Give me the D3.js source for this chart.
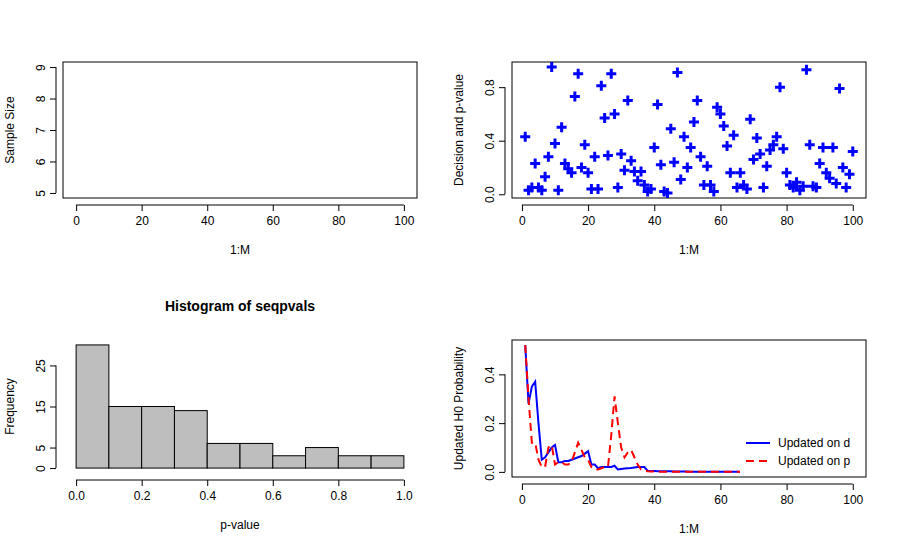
<!DOCTYPE html>
<html><head><meta charset="utf-8">
<script src="https://d3js.org/d3.v7.min.js"></script>
<style>body{margin:0;background:#fff}text{font-family:"Liberation Sans",Arial,sans-serif;font-size:12px}</style>
</head><body><script>
const M = 100;
const pvals = [0.43,0.03,0.05,0.23,0.05,0.03,0.13,0.28,0.95,0.38,0.03,0.5,0.23,0.19,0.16,0.73,0.9,0.2,0.37,0.16,
0.04,0.28,0.04,0.81,0.57,0.29,0.9,0.6,0.05,0.3,0.18,0.7,0.25,0.17,0.1,0.17,0.07,0.02,0.04,0.35,
0.67,0.22,0.02,0.01,0.49,0.24,0.91,0.11,0.43,0.2,0.35,0.54,0.7,0.28,0.07,0.21,0.07,0.02,0.65,0.6,
0.51,0.36,0.16,0.44,0.05,0.16,0.07,0.04,0.56,0.26,0.42,0.3,0.05,0.21,0.33,0.37,0.43,0.8,0.34,0.16,
0.07,0.05,0.09,0.03,0.06,0.93,0.37,0.06,0.05,0.23,0.35,0.16,0.12,0.35,0.08,0.79,0.2,0.05,0.15,0.32];
const histBreaks = [0,0.1,0.2,0.3,0.4,0.5,0.6,0.7,0.8,0.9,1.0];
const histCounts = [30,15,15,14,6,6,3,5,3,3];
const probD = [0.52,0.28,0.35,0.37,0.2,0.05,0.06,0.08,0.1,0.11,0.04,0.04,0.045,0.045,0.05,0.055,0.06,0.065,0.075,0.085,
0.03,0.03,0.015,0.02,0.02,0.02,0.02,0.025,0.01,0.012,0.014,0.015,0.016,0.018,0.02,0.02,0.02,0.005,0.004,0.004,
0.003,0.003,0.003,0.003,0.003,0.002,0.002,0.002,0.002,0.002];
const probP = [0.52,0.3,0.12,0.12,0.05,0.02,0.02,0.1,0.11,0.03,0.04,0.04,0.03,0.03,0.04,0.08,0.12,0.09,0.06,0.05,
0.02,0.01,0.01,0.015,0.02,0.02,0.15,0.31,0.2,0.1,0.06,0.08,0.09,0.06,0.03,0.01,0.005,0.003,0.002,0.002];
while (probD.length < M) probD.push(0.001);
while (probP.length < M) probP.push(0.0005);
const idx = d3.range(1, M + 1);

const svg = d3.select("body").append("svg").attr("width", 900).attr("height", 554);

function panel(box, xs, ys, xt, yt, xlab, ylab, title) {
  const g = svg.append("g");
  g.append("rect").attr("x", box.x0).attr("y", box.y0).attr("width", box.x1 - box.x0)
    .attr("height", box.y1 - box.y0).attr("fill", "none").attr("stroke", "#000");
  const ax = g.append("g").attr("transform", `translate(0,${box.y1 + 7})`)
    .call(d3.axisBottom(xs).tickValues(xt).tickSizeOuter(0).tickSize(6).tickPadding(5).tickFormat(d => d3.format(xt.some(v => v % 1) ? ".1f" : "d")(d)));
  ax.select(".domain").attr("d", `M${xs(xt[0])},0H${xs(xt[xt.length - 1])}`);
  const ay = g.append("g").attr("transform", `translate(${box.x0 - 7},0)`)
    .call(d3.axisLeft(ys).tickValues(yt).tickSizeOuter(0).tickSize(6).tickPadding(5).tickFormat(d => d3.format(yt.some(v => v % 1) ? ".1f" : "d")(d)));
  ay.select(".domain").attr("d", `M0,${ys(yt[0])}V${ys(yt[yt.length - 1])}`);
  ay.selectAll(".tick text").attr("transform", function () {
    const t = d3.select(this); return `rotate(-90,${t.attr("x")},0)`;
  }).attr("text-anchor", "middle").attr("dy", "0").attr("x", -11);
  g.selectAll(".tick text").style("font-size", "12px").attr("fill", "#000");
  g.append("text").attr("x", (box.x0 + box.x1) / 2).attr("y", box.y1 + 56).attr("text-anchor", "middle").text(xlab);
  g.append("text").attr("transform", `translate(${box.x0 - 49},${(box.y0 + box.y1) / 2}) rotate(-90)`)
    .attr("text-anchor", "middle").text(ylab);
  if (title) g.append("text").attr("x", (box.x0 + box.x1) / 2).attr("y", box.y0 - 29)
    .attr("text-anchor", "middle").style("font-weight", "bold").style("font-size", "14px").text(title);
  return g;
}

// top-left: empty sample size plot
const b1 = {x0: 63, x1: 417, y0: 62, y1: 198};
const x1 = d3.scaleLinear().domain([-4, 104]).range([b1.x0, b1.x1]);
const y1 = d3.scaleLinear().domain([4.84, 9.16]).range([b1.y1, b1.y0]);
panel(b1, x1, y1, [0, 20, 40, 60, 80, 100], [5, 6, 7, 8, 9], "1:M", "Sample Size");

// top-right: p-values
const b2 = {x0: 512, x1: 866, y0: 62, y1: 198};
const x2 = d3.scaleLinear().domain([-3, 104]).range([b2.x0, b2.x1]);
const y2 = d3.scaleLinear().domain([-0.028, 0.988]).range([b2.y1, b2.y0]);
const g2 = panel(b2, x2, y2, [0, 20, 40, 60, 80, 100], [0, 0.4, 0.8], "1:M", "Decision and p-value");
g2.selectAll(".pt").data(pvals).join("path")
  .attr("d", (d, i) => `M${x2(i + 1) - 5},${y2(d)}h10M${x2(i + 1)},${y2(d) - 5}v10`)
  .attr("stroke", "#00f").attr("stroke-width", 3);

// bottom-left: histogram
const b3 = {x0: 63, x1: 417, y0: 340, y1: 473};
const x3 = d3.scaleLinear().domain([-0.04, 1.04]).range([b3.x0, b3.x1]);
const y3 = d3.scaleLinear().domain([-1.2, 31.2]).range([b3.y1, b3.y0]);
const g3 = svg.append("g");
g3.selectAll("rect").data(histCounts).join("rect")
  .attr("x", (d, i) => x3(histBreaks[i])).attr("width", (d, i) => x3(histBreaks[i + 1]) - x3(histBreaks[i]))
  .attr("y", d => y3(d)).attr("height", d => y3(0) - y3(d)).attr("fill", "#bebebe").attr("stroke", "#000");
const h = panel(b3, x3, y3, [0, 0.2, 0.4, 0.6, 0.8, 1.0], [0, 5, 15, 25], "p-value", "Frequency", "Histogram of seqpvals");
h.select("rect").remove();

// bottom-right: updated probabilities
const b4 = {x0: 512, x1: 866, y0: 340, y1: 477};
const x4 = d3.scaleLinear().domain([-3, 104]).range([b4.x0, b4.x1]);
const y4 = d3.scaleLinear().domain([-0.021, 0.541]).range([b4.y1, b4.y0]);
const g4 = panel(b4, x4, y4, [0, 20, 40, 60, 80, 100], [0, 0.2, 0.4], "1:M", "Updated H0 Probability");
const line = d3.line().x((d, i) => x4(i + 1)).y(d => y4(d));
g4.append("path").attr("d", line(probD)).attr("fill", "none").attr("stroke", "#00f").attr("stroke-width", 2);
g4.append("path").attr("d", line(probP)).attr("fill", "none").attr("stroke", "#f00").attr("stroke-width", 2).attr("stroke-dasharray", "8,5");
const lg = g4.append("g").attr("transform", "translate(740,432)");
lg.append("rect").attr("width", 124).attr("height", 44).attr("fill", "#fff");
[["Updated on d", "#00f", null], ["Updated on p", "#f00", "8,5"]].forEach(([t, c, da], i) => {
  lg.append("line").attr("x1", 6).attr("x2", 30).attr("y1", 11 + i * 18).attr("y2", 11 + i * 18)
    .attr("stroke", c).attr("stroke-width", 2).attr("stroke-dasharray", da);
  lg.append("text").attr("x", 38).attr("y", 15 + i * 18).text(t);
});
</script></body></html>
